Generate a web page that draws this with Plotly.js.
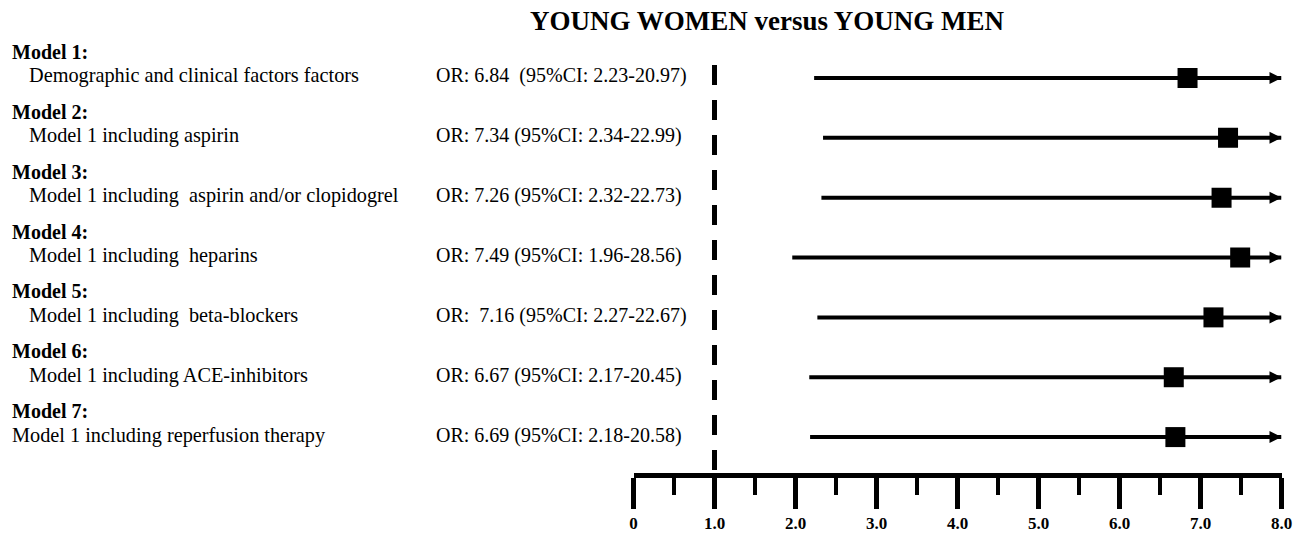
<!DOCTYPE html>
<html>
<head>
<meta charset="utf-8">
<script src="https://cdn.plot.ly/plotly-3.0.1.min.js"></script>
<style>html,body{margin:0;padding:0;background:#fff;}#chart{width:1313px;height:534px;}</style>
</head>
<body>
<div id="chart"></div>
<script>
// ---- data ----
const modelLabels = ["Model 1:", "Model 2:", "Model 3:", "Model 4:", "Model 5:", "Model 6:", "Model 7:"];
const modelDescriptions = [
  "Demographic and clinical factors factors",
  "Model 1 including aspirin",
  "Model 1 including \u00a0aspirin and/or clopidogrel",
  "Model 1 including \u00a0heparins",
  "Model 1 including \u00a0beta-blockers",
  "Model 1 including ACE-inhibitors",
  "Model 1 including reperfusion therapy"
];
const descIndented = [true, true, true, true, true, true, false];
const orValues = [6.84, 7.34, 7.26, 7.49, 7.16, 6.67, 6.69];
const ciLower = [2.23, 2.34, 2.32, 1.96, 2.27, 2.17, 2.18];
const ciUpper = [20.97, 22.99, 22.73, 28.56, 22.67, 20.45, 20.58];
const orLabels = [
  "OR: 6.84 \u00a0(95%CI: 2.23-20.97)",
  "OR: 7.34 (95%CI: 2.34-22.99)",
  "OR: 7.26 (95%CI: 2.32-22.73)",
  "OR: 7.49 (95%CI: 1.96-28.56)",
  "OR: \u00a07.16 (95%CI: 2.27-22.67)",
  "OR: 6.67 (95%CI: 2.17-20.45)",
  "OR: 6.69 (95%CI: 2.18-20.58)"
];
const tickValues = [0, 1, 2, 3, 4, 5, 6, 7, 8];
const tickLabels = ["0", "1.0", "2.0", "3.0", "4.0", "5.0", "6.0", "7.0", "8.0"];
const nullOR = 1;
const chartTitle = "YOUNG WOMEN versus YOUNG MEN";

// ---- build ----
const W = 1313, H = 534;
const xMin = 0, xMax = 8;
const rows = modelLabels.map((_, i) => i);
const FONT = "'Liberation Serif', 'Times New Roman', serif";

const lineX = [], lineY = [];
rows.forEach(i => {
  lineX.push(ciLower[i], Math.min(ciUpper[i], xMax), null);
  lineY.push(i, i, null);
});
const arrowX = ciUpper.map(v => Math.min(v, xMax));

const traces = [
  {x: lineX, y: lineY, mode: 'lines', line: {color: '#000', width: 4}, hoverinfo: 'skip'},
  {x: orValues, y: rows, mode: 'markers', marker: {symbol: 'square', size: 20, color: '#000', line: {width: 0}}},
  {x: arrowX, y: rows, mode: 'markers', marker: {symbol: 'arrow-right', size: 12, color: '#000', line: {width: 0}}}
];

const px = v => v / W;
const annotations = [];
rows.forEach(i => {
  annotations.push({xref: 'paper', yref: 'y', x: px(10), y: i, yshift: 26, xanchor: 'left', yanchor: 'middle',
    text: modelLabels[i], showarrow: false, font: {family: FONT, size: 20, color: '#000', weight: 'bold'}});
  annotations.push({xref: 'paper', yref: 'y', x: px(descIndented[i] ? 27 : 10), y: i, yshift: 2, xanchor: 'left', yanchor: 'middle',
    text: modelDescriptions[i], showarrow: false, font: {family: FONT, size: 20.3, color: '#000'}});
  annotations.push({xref: 'paper', yref: 'y', x: px(434), y: i, yshift: 2, xanchor: 'left', yanchor: 'middle',
    text: orLabels[i], showarrow: false, font: {family: FONT, size: 20, color: '#000'}});
});

const yBottomPx = 473, yTopPx = 60;
const layout = {
  width: W, height: H,
  margin: {l: 0, r: 0, t: 0, b: 0, pad: 0},
  paper_bgcolor: '#fff', plot_bgcolor: '#fff',
  showlegend: false,
  title: {text: chartTitle, font: {family: FONT, size: 27, color: '#000', weight: 'bold'},
          x: 767 / W, xanchor: 'center', y: 1 - 21 / H, yanchor: 'middle'},
  xaxis: {
    range: [xMin, xMax], domain: [633.5 / W, 1281.5 / W],
    showgrid: false, zeroline: false,
    showline: true, linecolor: '#000', linewidth: 5,
    ticks: 'outside', ticklen: 31, tickwidth: 5, tickcolor: '#000',
    tickmode: 'array', tickvals: tickValues, ticktext: tickLabels,
    tickfont: {family: FONT, size: 17, color: '#000', weight: 'bold'},
    minor: {tickmode: 'linear', tick0: 0, dtick: 0.5, ticks: 'outside', ticklen: 17, tickwidth: 4, tickcolor: '#000', showgrid: false},
    fixedrange: true
  },
  yaxis: {
    range: [6.6, -0.3], domain: [(H - yBottomPx) / H, (H - yTopPx) / H],
    visible: false, fixedrange: true
  },
  shapes: [{
    type: 'line', xref: 'x', yref: 'paper', x0: nullOR, x1: nullOR,
    y0: (H - 65) / H, y1: (H - yBottomPx) / H,
    line: {color: '#000', width: 5, dash: '20px,15px'}
  }],
  annotations: annotations
};

Plotly.newPlot('chart', traces, layout, {staticPlot: true, displayModeBar: false});
</script>
</body>
</html>
